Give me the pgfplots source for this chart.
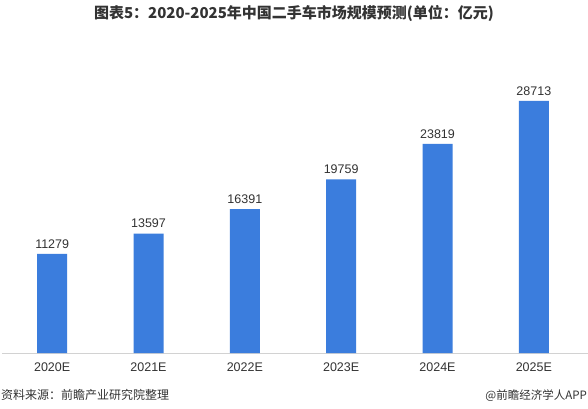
\documentclass[border=0pt]{standalone}
\usepackage{pgfplots}
\pgfplotsset{compat=1.18}
\usepackage{fontspec}
\setmainfont{Liberation Sans}
\newfontfamily\cjk{Noto Sans CJK SC}
\definecolor{barblue}{HTML}{3B7DDD}
\definecolor{txt}{HTML}{333333}

\begin{document}
\begin{tikzpicture}[x=1pt,y=1pt]
\useasboundingbox (0,0) rectangle (588,408);
\fill[white] (0,0) rectangle (588,408);

% baseline
\draw[gray!35, line width=0.8pt] (2,55) -- (588,55);

\begin{axis}[
    at={(4pt,55pt)}, anchor=south west,
    scale only axis,
    width=578pt, height=281pt,
    xmin=-0.5, xmax=5.5,
    ymin=0, ymax=32000,
    axis x line=bottom,
    axis y line=none,
    x axis line style={draw=none, -},
    major tick length=0pt,
    xtick=data,
    xticklabels={2020E,2021E,2022E,2023E,2024E,2025E},
    x tick label style={font=\fontsize{12.5}{14}\selectfont, text=txt, yshift=-6pt},
    ytick=\empty,
    clip=false,
    /pgf/number format/assume math mode=true,
    nodes near coords,
    nodes near coords style={font=\fontsize{12.5}{14}\selectfont, text=txt,
        /pgf/number format/fixed, /pgf/number format/1000 sep={}, yshift=2pt},
    ]
    \addplot[ybar, bar width=30pt, fill=barblue, draw=none] coordinates {
        (0,11279) (1,13597) (2,16391) (3,19759) (4,23819) (5,28713)
    };
\end{axis}

\node[font=\cjk\bfseries\fontsize{15}{17}\selectfont, text=txt, anchor=base]
    at (294,389) {图表5：2020-2025年中国二手车市场规模预测(单位：亿元)};
\node[font=\cjk\fontsize{12}{14}\selectfont, text=txt, anchor=base west, inner sep=0pt]
    at (1,9) {资料来源：前瞻产业研究院整理};
\node[font=\cjk\fontsize{11.5}{14}\selectfont, text=txt, anchor=base east, inner sep=0pt]
    at (587,9) {@前瞻经济学人APP};
\end{tikzpicture}
\end{document}
